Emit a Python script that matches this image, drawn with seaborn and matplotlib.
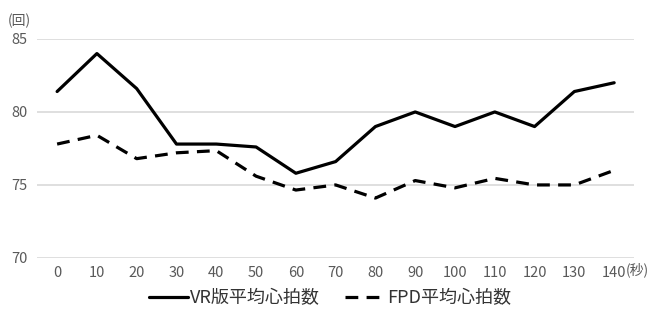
import pandas as pd
import matplotlib
matplotlib.use('Agg')
import matplotlib.pyplot as plt
import seaborn as sns

sns.set_style('white')
plt.rcParams['font.family'] = ['Noto Sans CJK JP', 'DejaVu Sans']

# 経過時間(秒)
seconds = [0, 10, 20, 30, 40, 50, 60, 70, 80, 90, 100, 110, 120, 130, 140]
vr_hr = [81.4, 84.0, 81.6, 77.8, 77.8, 77.6, 75.8, 76.6, 79.0, 80.0, 79.0, 80.0, 79.0, 81.4, 82.0]
fpd_hr = [77.8, 78.4, 76.8, 77.2, 77.35, 75.6, 74.65, 75.0, 74.1, 75.3, 74.8, 75.45, 75.0, 75.0, 76.0]
series_names = ['VR版平均心拍数', 'FPD平均心拍数']

df = pd.DataFrame({
    'idx': list(range(len(seconds))) * 2,
    'hr': vr_hr + fpd_hr,
    'series': [series_names[0]] * len(seconds) + [series_names[1]] * len(seconds),
})

fig = plt.figure(figsize=(6.53, 3.22), dpi=100)
ax = fig.add_axes([0.057, 0.199, 0.914, 0.680])

sns.lineplot(data=df, x='idx', y='hr', hue='series', style='series',
             palette={series_names[0]: 'black', series_names[1]: 'black'},
             dashes={series_names[0]: '', series_names[1]: (4, 2.6)},
             linewidth=2.3, ax=ax, legend=False)

ax.set_xlim(-0.5, len(seconds) - 0.5)
ax.set_ylim(70, 85)
ax.set_yticks([70, 75, 80, 85])
ax.set_xticks(range(len(seconds)))
labels = [str(s) for s in seconds]
ax.set_xticklabels(labels)
ax.tick_params(axis='both', length=0, labelsize=10.5, colors='#595959')
ax.tick_params(axis='x', pad=6)
ax.tick_params(axis='y', pad=7)
ax.grid(axis='y', color='#d9d9d9', linewidth=1.2)
for s in ax.spines.values():
    s.set_visible(False)
ax.set_xlabel('')
ax.set_ylabel('')

fig.text(0.012, 0.935, '(回)', fontsize=10, color='#595959', va='center')
fig.text(0.958, 0.162, '(秒)', fontsize=10, color='#595959', va='center')

handles = ax.get_lines()[:2]
fig.legend(handles, series_names, loc='center', bbox_to_anchor=(0.505, 0.075),
           ncol=2, frameon=False, fontsize=13, handlelength=2.2,
           handletextpad=0.1, columnspacing=1.4, labelcolor='#333333')

fig.savefig('out.png', dpi=100)
